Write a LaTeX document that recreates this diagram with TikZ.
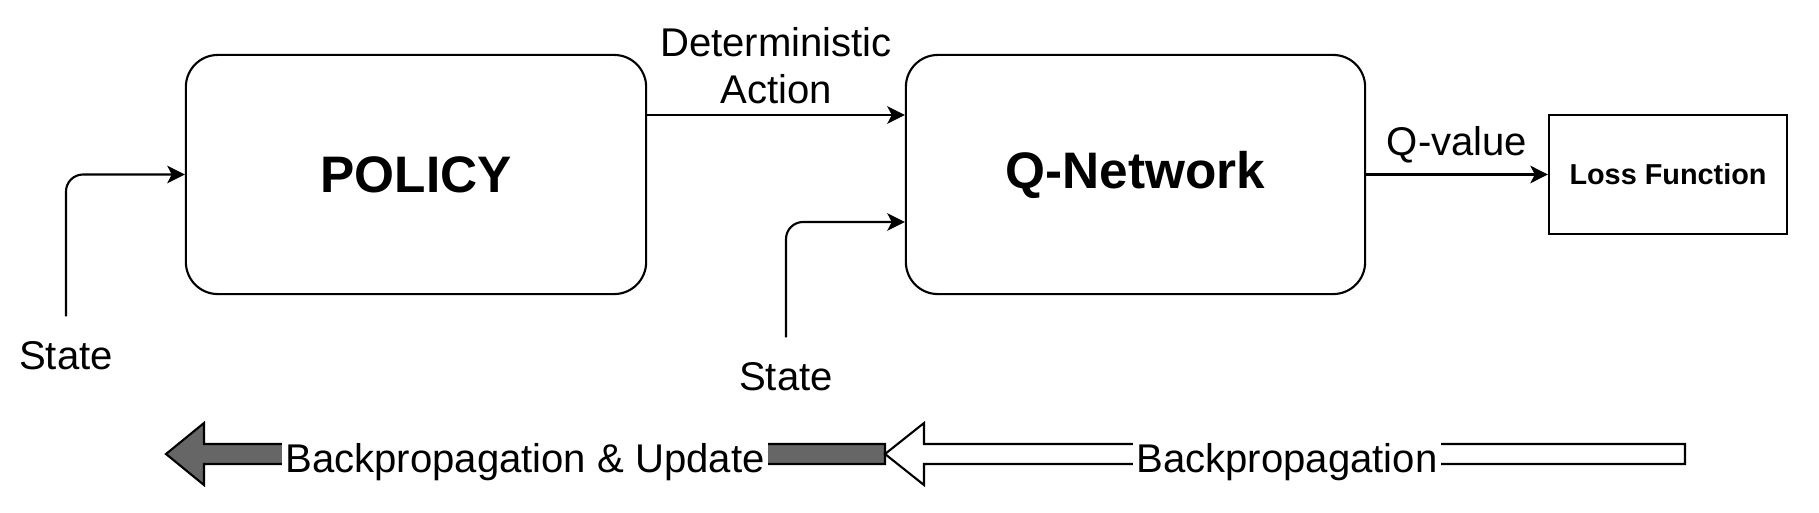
\documentclass[tikz,border=0pt]{standalone}
\usepackage{fontspec}
\setmainfont{Liberation Sans}
\usetikzlibrary{arrows.meta, positioning, calc}
\definecolor{bpgray}{HTML}{666666}
\definecolor{inkblack}{HTML}{000000}

\begin{document}
\begin{tikzpicture}[
  x=0.01cm, y=-0.01cm,
  >={Stealth[length=5pt, width=5pt, inset=1.3pt]},
  line width=0.6pt,
  block/.style={draw=inkblack, rounded corners=0.32cm, minimum width=4.6cm,
    minimum height=2.39cm, font=\fontsize{14.6}{17}\selectfont\bfseries},
  lossbox/.style={draw=inkblack, minimum width=2.38cm, minimum height=1.19cm,
    font=\fontsize{8.2}{10}\selectfont\bfseries},
  lbl/.style={font=\fontsize{11.4}{13.1}\selectfont, align=center},
  statelbl/.style={lbl, inner sep=0pt, outer sep=7pt, anchor=base},
  conn/.style={->, rounded corners=0.17cm},
  bigarrow/.style={draw=inkblack, line join=miter},
  bplbl/.style={lbl, fill=white, inner xsep=1pt, inner ysep=1pt, anchor=base},
]

% Canvas
\useasboundingbox (0,0) rectangle (1819,512);

% =============================================
% Blocks
% =============================================

\node[block] (policy) at (416,174.5) {POLICY};
\node[block, minimum width=4.59cm] (qnet) at (1135.5,174.5) {Q-Network};
\node[lossbox] (loss) at (1668,174.5) {Loss Function};

% State inputs
\node[statelbl] (stateA) at (66,369) {State};
\node[statelbl] (stateB) at (786,390) {State};

% =============================================
% Connectors
% =============================================

\draw[conn] (stateA.north) |- (policy.west);
\draw[conn] (stateB.north) |- ($(qnet.west)+(0,47.5)$);

\draw[->] ($(policy.east)+(0,-59.5)$) --
  node[lbl, above, inner ysep=3pt] {Deterministic\\Action} ($(qnet.west)+(0,-59.5)$);

\draw[->] (qnet.east) -- node[lbl, above, inner ysep=3pt] {Q-value} (loss.west);

% =============================================
% Backward pass arrows
% =============================================

% Dark arrow: into the policy
\draw[bigarrow, fill=bpgray]
  (166,454) -- (204,423) -- (204,444) -- (885,444) -- (885,464)
  -- (204,464) -- (204,485) -- cycle;

% White arrow: from the loss
\draw[bigarrow, fill=white]
  (885,454) -- (924,423) -- (924,444) -- (1685,444) -- (1685,464)
  -- (924,464) -- (924,485) -- cycle;

\node[bplbl] (bpupd) at (525,472) {Backpropagation \& Update};
\node[bplbl] (bponly) at (1287,472) {Backpropagation};

\end{tikzpicture}
\end{document}
